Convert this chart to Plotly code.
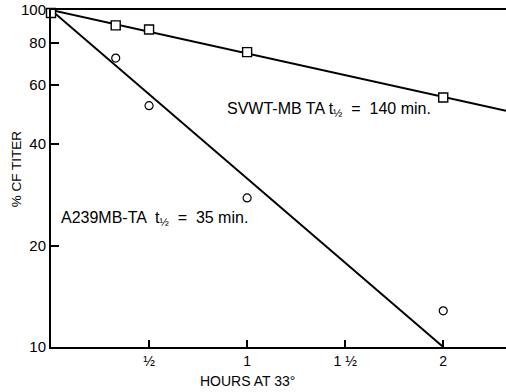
import plotly.graph_objects as go
import math

# Data
svwt_hours = [0, 0.33, 0.5, 1.0, 2.0]
svwt_titer = [98, 90, 87.5, 75, 55]
a239_hours = [0.33, 0.5, 1.0, 2.0]
a239_titer = [72, 52, 27.7, 12.8]

# fitted decay lines (end points)
svwt_fit_hours = [0, 2.32]
svwt_fit_titer = [100, 50.2]
a239_fit_hours = [0, 2.0]
a239_fit_titer = [100, 10]

x_tick_vals = [0.5, 1, 1.5, 2]
x_tick_text = ["½", "1", "1 ½", "2"]
y_tick_vals = [10, 20, 40, 60, 80, 100]
y_tick_text = ["10", "20", "40", "60", "80", "100"]

FONT = "Liberation Sans, Arial, Helvetica, sans-serif"

fig = go.Figure()
fig.add_trace(go.Scatter(x=svwt_fit_hours, y=svwt_fit_titer, mode="lines",
                         line=dict(color="black", width=2), showlegend=False))
fig.add_trace(go.Scatter(x=a239_fit_hours, y=a239_fit_titer, mode="lines",
                         line=dict(color="black", width=2), showlegend=False))
fig.add_trace(go.Scatter(x=a239_hours, y=a239_titer, mode="markers",
                         marker=dict(symbol="circle", size=8, color="white",
                                     line=dict(color="black", width=1.2)),
                         showlegend=False, cliponaxis=False))
fig.add_trace(go.Scatter(x=svwt_hours, y=svwt_titer, mode="markers",
                         marker=dict(symbol="square", size=9, color="white",
                                     line=dict(color="black", width=1.4)),
                         showlegend=False, cliponaxis=False))

fig.add_annotation(x=0.885, y=math.log10(50.8), xref="x", yref="y",
                   yanchor="middle", xanchor="left",
                   text="SVWT-MB TA t<sub>½</sub>  =  140 min.", showarrow=False,
                   font=dict(family=FONT, size=16, color="black"))
fig.add_annotation(x=0.04, y=math.log10(24.0), xref="x", yref="y",
                   yanchor="middle", xanchor="left",
                   text="A239MB-TA  t<sub>½</sub>  =  35 min.", showarrow=False,
                   font=dict(family=FONT, size=16, color="black"))
fig.add_annotation(x=1.0, y=-0.1, xref="x", yref="paper",
                   yanchor="middle", xanchor="center",
                   text="HOURS AT 33°", showarrow=False,
                   font=dict(family=FONT, size=14, color="black"))
fig.add_annotation(x=-0.077, y=0.53, xref="paper", yref="paper",
                   yanchor="middle", xanchor="center", textangle=-90,
                   text="% CF TITER", showarrow=False,
                   font=dict(family=FONT, size=13.5, color="black"))

fig.update_layout(
    width=506, height=392,
    margin=dict(l=51, r=0, t=10, b=45),
    paper_bgcolor="white", plot_bgcolor="white",
    font=dict(family=FONT, size=14, color="black"),
    showlegend=False,
    xaxis=dict(range=[0, 2.32], tickvals=x_tick_vals, ticktext=x_tick_text,
               ticks="inside", ticklen=7, tickwidth=1.5, tickcolor="black",
               showline=True, linecolor="black", linewidth=2, mirror=True,
               showgrid=False, zeroline=False,
               tickfont=dict(size=14)),
    yaxis=dict(type="log", range=[1, 2], tickvals=y_tick_vals, ticktext=y_tick_text,
               ticks="inside", ticklen=8, tickwidth=1.5, tickcolor="black",
               showline=True, linecolor="black", linewidth=2,
               showgrid=False, zeroline=False,
               tickfont=dict(size=15)),
)

fig.write_html("out.html")
